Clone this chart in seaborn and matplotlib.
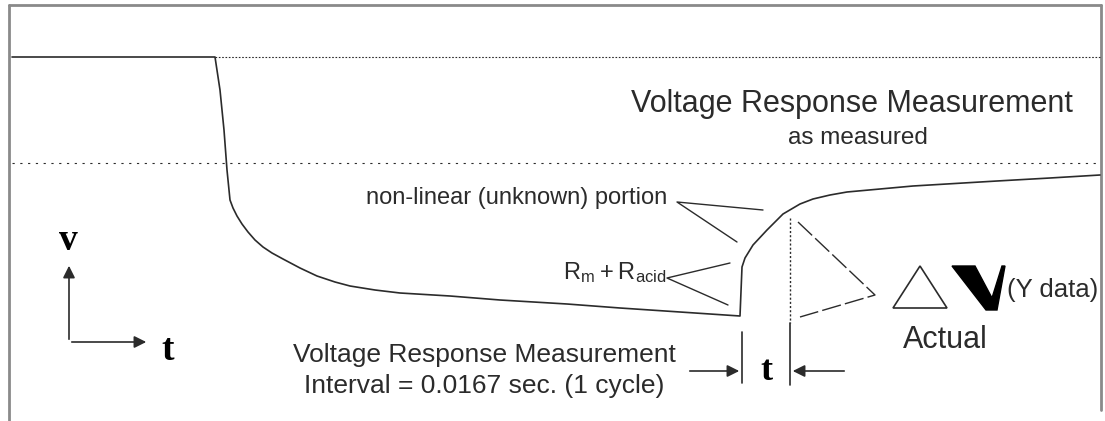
import numpy as np
import pandas as pd
import matplotlib
matplotlib.use("Agg")
import matplotlib.pyplot as plt
import seaborn as sns

# curve of the measured voltage response (picture coords, y grows down)
curve_x = [12, 215, 220, 224, 227, 230, 233, 237, 242, 248, 255, 263, 272, 283, 300,
           317, 335, 350, 375, 400, 450, 500, 567, 620, 680, 740, 742, 745, 753, 767,
           783, 800, 813, 830, 847, 880, 913, 997, 1050, 1100]
curve_y = [57, 57, 90, 130, 170, 200, 208, 216, 224, 232, 240, 247, 253, 259, 268,
           276, 282, 286, 290, 293, 296, 300, 304, 308, 312, 316, 267, 258, 245, 230,
           214, 204, 199, 195, 192, 189, 186, 181, 178, 175]

ref_levels = [57, 163]          # dotted reference levels
dt_start, dt_end = 742, 790     # measurement interval markers

main_title = "Voltage Response Measurement"
main_sub = "as measured"
interval_lines = ["Voltage Response Measurement", "Interval = 0.0167 sec. (1 cycle)"]
note_nonlin = "non-linear (unknown) portion"
note_r = r"$\mathregular{R_m + R_{acid}}$"

sns.set_style("white")
plt.rcParams['font.family'] = ['Liberation Sans', 'DejaVu Sans']

fig = plt.figure(figsize=(11.05, 4.21), dpi=100)
ax = fig.add_axes([0, 0, 1, 1])
ax.set_xlim(0, 1105)
ax.set_ylim(421, 0)
ax.axis("off")

ink = "#2b2b2b"
frame = "#8a8a8a"

# frame
ax.plot([9, 9], [421, 5], color=frame, lw=2)
ax.plot([9, 1101], [5, 5], color=frame, lw=2)
ax.plot([1101, 1101], [5, 410], color=frame, lw=2)

# dotted levels
ax.plot([215, 1100], [ref_levels[0]] * 2, color=ink, lw=0.8, ls=(0, (1.5, 1.5)))
ax.plot([12, 1100], [ref_levels[1]] * 2, color=ink, lw=0.8, ls=(0, (2, 5)))

df = pd.DataFrame({"x": curve_x, "y": curve_y})
sns.lineplot(data=df, x="x", y="y", sort=False, estimator=None, color=ink, lw=1.2, ax=ax)

# interval markers
ax.plot([dt_start, dt_start], [332, 383], color=ink, lw=1.2)
ax.plot([dt_end, dt_end], [218, 323], color=ink, lw=1, ls=(0, (1.5, 1.5)))
ax.plot([dt_end, dt_end], [323, 385], color=ink, lw=1.2)
ax.annotate("", xy=(dt_start, 371), xytext=(687, 371),
            arrowprops=dict(arrowstyle="-|>", color=ink, lw=1.2, mutation_scale=18))
ax.annotate("", xy=(dt_end, 371), xytext=(847, 371),
            arrowprops=dict(arrowstyle="-|>", color=ink, lw=1.2, mutation_scale=18))
ax.text(766, 372, "t", fontsize=26, fontweight="bold", family="Liberation Serif",
        ha="center", va="center", color="black")

# axes symbol
ax.annotate("", xy=(69, 263), xytext=(69, 342),
            arrowprops=dict(arrowstyle="-|>", color=ink, lw=1.2, mutation_scale=18))
ax.annotate("", xy=(149, 342), xytext=(69, 342),
            arrowprops=dict(arrowstyle="-|>", color=ink, lw=1.2, mutation_scale=18))
ax.text(68, 240, "v", fontsize=27, fontweight="bold", family="Liberation Serif",
        ha="center", va="center", color="black")
ax.text(168, 350, "t", fontsize=27, fontweight="bold", family="Liberation Serif",
        ha="center", va="center", color="black")

# texts
ax.text(852, 104, main_title, fontsize=22, ha="center", va="center", color=ink)
ax.text(858, 138, main_sub, fontsize=17.5, ha="center", va="center", color=ink)
ax.text(484, 355, interval_lines[0], fontsize=19, ha="center", va="center", color=ink)
ax.text(484, 386, interval_lines[1], fontsize=19, ha="center", va="center", color=ink)
ax.text(667, 198, note_nonlin, fontsize=17, ha="right", va="center", color=ink)
ax.text(666, 273, note_r, fontsize=17, ha="right", va="center", color=ink)

# pointer lines
ax.plot([763, 677, 737], [210, 202, 242], color=ink, lw=1)
ax.plot([730, 667, 728], [263, 278, 305], color=ink, lw=1)
ax.plot([798, 875, 800], [222, 295, 317], color=ink, lw=1, ls=(0, (14, 3)))

# delta V (Y data) / Actual
ax.add_patch(plt.Polygon([(893, 308), (920, 266), (947, 308)], closed=True,
                         fill=False, edgecolor=ink, lw=1.2))
ax.add_patch(plt.Polygon([(952, 266), (975, 266), (992, 298), (1002, 266), (1005, 266),
                          (997, 310), (986, 310)], closed=True, color="black"))
ax.text(1007, 290, "(Y data)", fontsize=18.5, ha="left", va="center", color=ink)
ax.text(945, 340, "Actual", fontsize=22, ha="center", va="center", color=ink)

fig.savefig("out.png", dpi=100)
